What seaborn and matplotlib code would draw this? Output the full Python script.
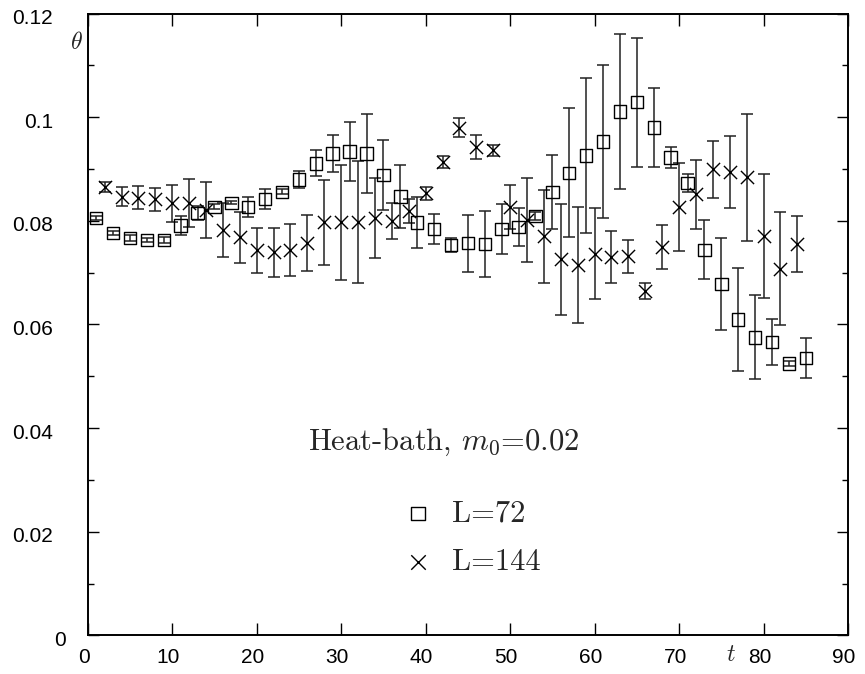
import numpy as np
import pandas as pd
import seaborn as sns
import matplotlib.pyplot as plt
import matplotlib.transforms as mtransforms
from matplotlib.ticker import MultipleLocator

# L=72 (squares), odd t
t_72 = [1, 3, 5, 7, 9, 11, 13, 15, 17, 19, 21, 23, 25, 27, 29, 31, 33, 35, 37, 39, 41, 43,
        45, 47, 49, 51, 53, 55, 57, 59, 61, 63, 65, 67, 69, 71, 73, 75, 77, 79, 81, 83, 85]
theta_72 = [0.0806, 0.0777, 0.0767, 0.0763, 0.0763, 0.0791, 0.0815, 0.0827, 0.0835, 0.0827,
            0.0842, 0.0856, 0.0880, 0.0911, 0.0930, 0.0934, 0.0930, 0.0889, 0.0847, 0.0797,
            0.0784, 0.0753, 0.0757, 0.0755, 0.0784, 0.0788, 0.0810, 0.0856, 0.0893, 0.0926,
            0.0953, 0.1011, 0.1029, 0.0980, 0.0922, 0.0873, 0.0744, 0.0678, 0.0610, 0.0575,
            0.0566, 0.0525, 0.0535]
err_72 = [0.0004, 0.0004, 0.0005, 0.0004, 0.0005, 0.0018, 0.0014, 0.0005, 0.0003, 0.0019,
          0.0019, 0.0005, 0.0016, 0.0025, 0.0036, 0.0057, 0.0076, 0.0068, 0.0060, 0.0050,
          0.0029, 0.0014, 0.0055, 0.0064, 0.0048, 0.0036, 0.0008, 0.0071, 0.0125, 0.0150,
          0.0147, 0.0150, 0.0125, 0.0076, 0.0020, 0.0017, 0.0057, 0.0089, 0.0100, 0.0081,
          0.0045, 0.0005, 0.0038]

# L=144 (crosses), even t
t_144 = [2, 4, 6, 8, 10, 12, 14, 16, 18, 20, 22, 24, 26, 28, 30, 32, 34, 36, 38, 40, 42,
         44, 46, 48, 50, 52, 54, 56, 58, 60, 62, 64, 66, 68, 70, 72, 74, 76, 78, 80, 82, 84]
theta_144 = [0.0866, 0.0847, 0.0845, 0.0842, 0.0834, 0.0834, 0.0821, 0.0782, 0.0768, 0.0743,
             0.0739, 0.0744, 0.0757, 0.0797, 0.0797, 0.0798, 0.0806, 0.0800, 0.0819, 0.0853,
             0.0914, 0.0980, 0.0943, 0.0936, 0.0827, 0.0802, 0.0770, 0.0726, 0.0715, 0.0737,
             0.0731, 0.0732, 0.0665, 0.0750, 0.0827, 0.0851, 0.0900, 0.0894, 0.0884, 0.0771,
             0.0708, 0.0755]
err_144 = [0.0010, 0.0018, 0.0022, 0.0022, 0.0036, 0.0046, 0.0054, 0.0052, 0.0050, 0.0043,
           0.0047, 0.0050, 0.0054, 0.0082, 0.0111, 0.0117, 0.0077, 0.0035, 0.0024, 0.0013,
           0.0011, 0.0018, 0.0023, 0.0011, 0.0042, 0.0081, 0.0090, 0.0107, 0.0112, 0.0088,
           0.0050, 0.0032, 0.0016, 0.0042, 0.0085, 0.0066, 0.0055, 0.0069, 0.0122, 0.0119,
           0.0109, 0.0054]

df72 = pd.DataFrame({'t': t_72, 'theta': theta_72, 'err': err_72})
df144 = pd.DataFrame({'t': t_144, 'theta': theta_144, 'err': err_144})

sns.set_theme(style='ticks')
plt.rcParams['mathtext.fontset'] = 'cm'
plt.rcParams['font.family'] = ['Liberation Sans', 'DejaVu Sans']

fig = plt.figure(figsize=(8.65, 6.74), dpi=100)
ax = fig.add_axes([0.1014, 0.0574, 0.879, 0.9223])

bar_kw = dict(fmt='none', ecolor='#222222', elinewidth=1.1, capsize=4.5, capthick=1.1, zorder=2)
ax.errorbar(df72['t'], df72['theta'], yerr=df72['err'], **bar_kw)
ax.errorbar(df144['t'], df144['theta'], yerr=df144['err'], **bar_kw)

sns.scatterplot(data=df72, x='t', y='theta', marker='s', s=80, facecolor='none',
                edgecolor='black', linewidth=1.0, label='L=72', ax=ax, zorder=3)
sns.scatterplot(data=df144, x='t', y='theta', marker='x', s=90, color='black',
                linewidth=1.0, label='L=144', ax=ax, zorder=3)

ax.set_xlim(0, 90)
ax.set_ylim(0, 0.12)
ax.xaxis.set_major_locator(MultipleLocator(10))
ax.yaxis.set_major_locator(MultipleLocator(0.02))
ax.yaxis.set_minor_locator(MultipleLocator(0.01))
ax.yaxis.set_major_formatter(plt.FuncFormatter(lambda v, p: '0' if abs(v) < 1e-9 else ('%g' % v)))

ax.tick_params(axis='both', which='both', direction='in', top=True, right=True,
               labelsize=15, width=1.0, color='black', labelcolor='black')
ax.tick_params(axis='y', which='major', length=8, pad=25)
ax.tick_params(axis='y', which='minor', length=4.5)
ax.tick_params(axis='x', which='major', length=8.5, pad=9)
for sp in ax.spines.values():
    sp.set_linewidth(1.4)
    sp.set_color('black')

# nudge tick labels a little, as in the original
shift_x = mtransforms.ScaledTranslation(-4 / 100, 0, fig.dpi_scale_trans)
shift_y = mtransforms.ScaledTranslation(0, -3 / 100, fig.dpi_scale_trans)
for lab in ax.get_xticklabels():
    lab.set_transform(lab.get_transform() + shift_x)
ylabs = ax.get_yticklabels()
for lab in ylabs:
    lab.set_transform(lab.get_transform() + shift_y)
# the zero on the y axis sits further right
i0 = int(np.argmin(np.abs(ax.get_yticks())))
ylabs[i0].set_transform(ylabs[i0].get_transform() +
                        mtransforms.ScaledTranslation(13 / 100, 0, fig.dpi_scale_trans))

ax.set_xlabel(r'$t$', fontsize=17)
ax.xaxis.set_label_coords(0.846, -0.032)
ax.xaxis.label.set_va('center')
ax.set_ylabel(r'$\theta$', fontsize=17, rotation=0)
ax.yaxis.set_label_coords(-0.015, 0.953)
ax.yaxis.label.set_va('center')

fig.text(444 / 865, 1 - 442 / 674, r'Heat-bath, $m_0$=0.02', family='cmr10',
         fontsize=22, ha='center', va='center')

ax.legend(loc='upper left', bbox_to_anchor=(403 / 865, 1 - 500 / 674),
          bbox_transform=fig.transFigure, frameon=False, borderpad=0, borderaxespad=0,
          handlelength=1.0, handletextpad=0.6, labelspacing=0.7, markerscale=1.1,
          prop={'family': 'cmr10', 'size': 22})

fig.savefig('out.png', dpi=100)
